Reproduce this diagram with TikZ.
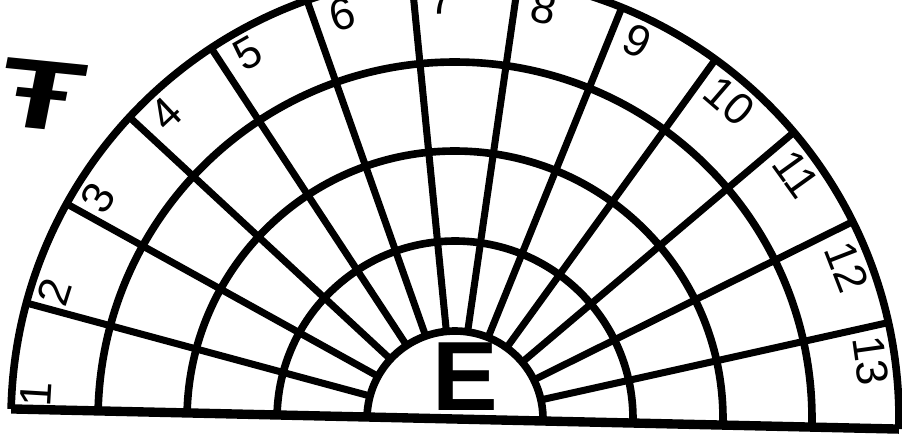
\documentclass[tikz,border=0pt]{standalone}
\usepackage{fontspec}
\setsansfont{Liberation Sans}
\usepackage{tikz}
\usetikzlibrary{calc}

\begin{document}
\begin{tikzpicture}[x=0.03cm, y=0.03cm,
        ring/.style={line width=6.5pt},
        spoke/.style={line width=6pt},
        num/.style={font=\sffamily\fontsize{38}{38}\selectfont, inner sep=0pt},
        big/.style={font=\sffamily\bfseries\fontsize{84}{84}\selectfont, inner sep=0pt}
    ]
        \useasboundingbox (0,0) rectangle (902,436);
        \fill[white] (0,0) rectangle (902,436);
        \clip (0,0) rectangle (902,436);
        \coordinate (c) at (455,17);

        % Half disc
        \begin{scope}[shift={(c)}, rotate=-1.3]
            \foreach \r in {88,178,268,357,444}
                \draw[ring] (0:\r) arc[start angle=0, end angle=180, radius=\r];
            \foreach \k in {1,...,12}
                \draw[spoke] ({180-\k*180/13}:88) -- ({180-\k*180/13}:444);
            \draw[ring, line width=8pt] (180:444) -- (0:444);
        \end{scope}

        % Sector numbers
        \foreach \a/\n in {176.6/1, 162.4/2, 148.2/3, 133.4/4, 119.5/5, 105.6/6, 91.8/7,
                           77.8/8, 64.2/9, 49.2/10, 35.7/11, 21.2/12, 8.0/13}
            \node[num, rotate=\a-90] (n\n) at ($(c)+(\a:420)$) {\n};

        % Letters
        \node[big] (e) at (465,59) {E};
        \node[big, xscale=1.4, rotate=-8] (mark) at (42,341) {Ŧ};
    \end{tikzpicture}
\end{document}
